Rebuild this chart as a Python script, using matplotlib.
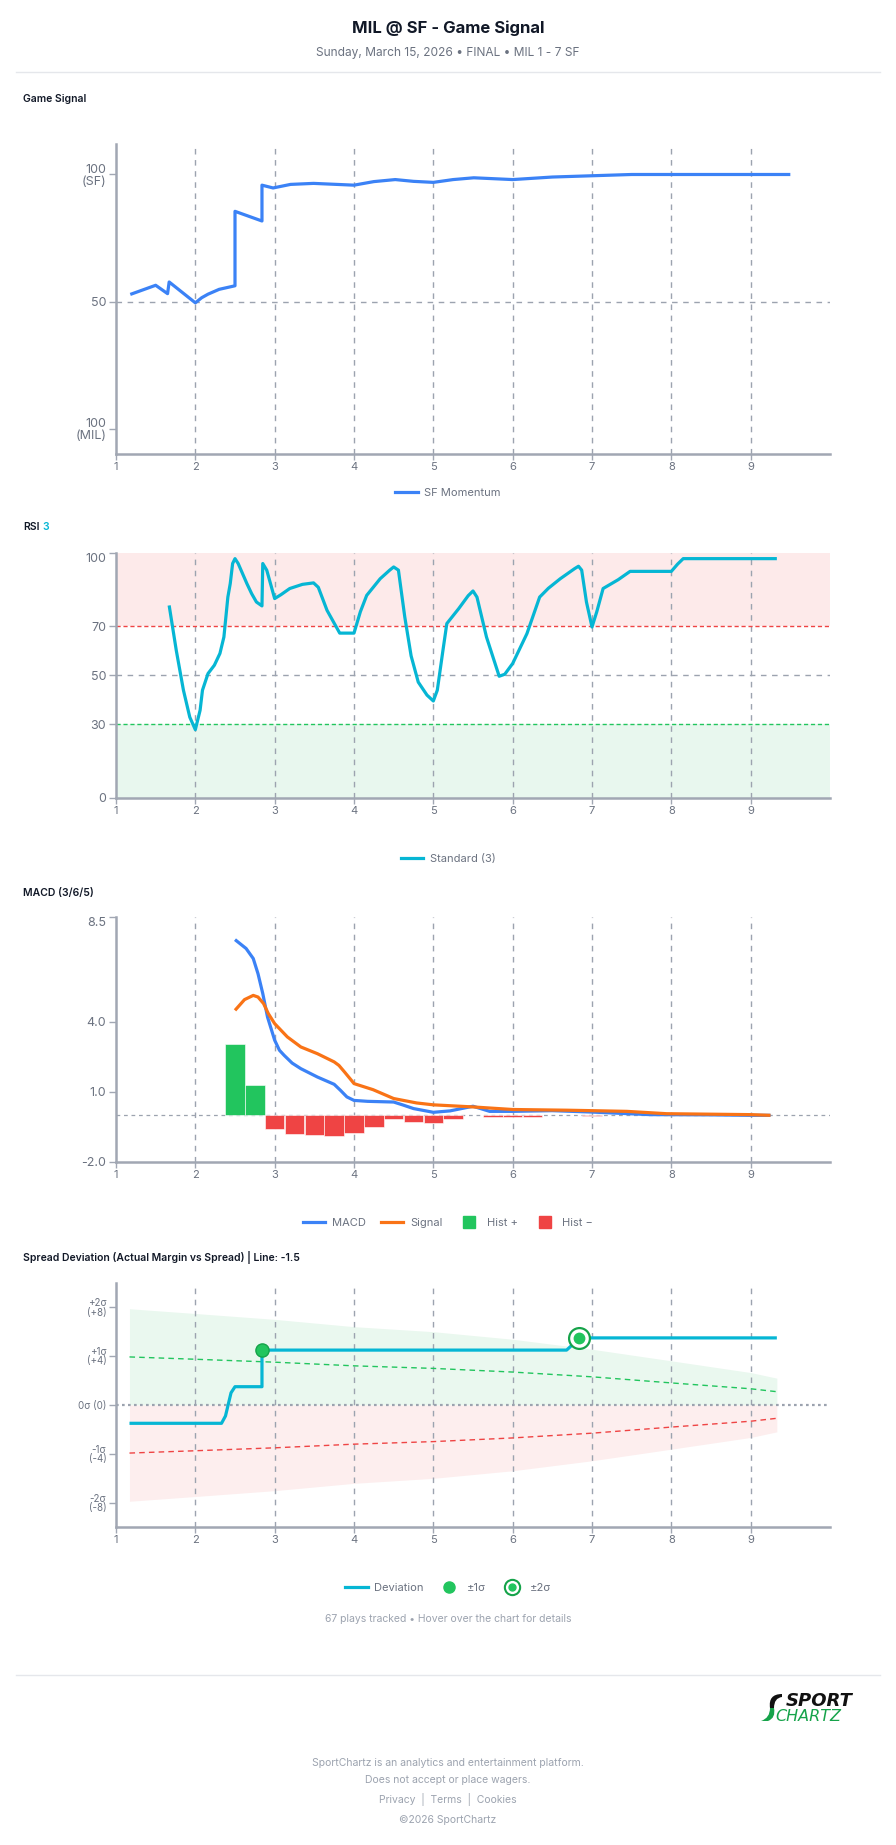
import numpy as np
import matplotlib
matplotlib.use("Agg")
import matplotlib.pyplot as plt
from matplotlib.lines import Line2D
from matplotlib.path import Path
from matplotlib.patches import PathPatch

plt.rcParams['font.family'] = ['Inter', 'DejaVu Sans']

# ---------------- data ----------------
innings = [1, 2, 3, 4, 5, 6, 7, 8, 9]

# game signal (0 = MIL 100, 100 = SF 100)
gs_x = [1.18, 1.50, 1.65, 1.67, 2.00, 2.08, 2.16, 2.30, 2.50, 2.50, 2.84, 2.84,
        2.98, 3.20, 3.49, 4.00, 4.25, 4.52, 4.75, 5.00, 5.25, 5.51, 6.00, 6.50,
        7.00, 7.50, 8.00, 9.50]
gs_y = [52.8, 56.4, 53.1, 57.7, 49.5, 51.5, 52.9, 54.8, 56.2, 85.5, 81.7, 95.8,
        94.7, 96.1, 96.5, 95.8, 97.2, 98.0, 97.3, 96.9, 98.0, 98.7, 98.0, 99.0,
        99.5, 100, 100, 100]
gs_ticks = [0, 50, 100]
gs_ticklabels = ["100\n(MIL)", "50", "100\n(SF)"]

# RSI (3)
rsi_x = [1.67, 1.76, 1.85, 1.93, 2.00, 2.06, 2.09, 2.16, 2.24, 2.31, 2.36, 2.41,
         2.44, 2.47, 2.50, 2.54, 2.65, 2.71, 2.77, 2.84, 2.85, 2.90, 3.00, 3.08,
         3.19, 3.35, 3.49, 3.55, 3.66, 3.82, 4.00, 4.08, 4.16, 4.33, 4.45, 4.50,
         4.56, 4.64, 4.72, 4.81, 4.92, 5.00, 5.05, 5.12, 5.17, 5.32, 5.44, 5.50,
         5.55, 5.67, 5.83, 5.90, 6.00, 6.18, 6.34, 6.45, 6.60, 6.78, 6.83, 6.87,
         6.93, 7.00, 7.06, 7.14, 7.33, 7.48, 8.00, 8.08, 8.15, 9.33]
rsi_y = [78.6, 60.2, 44.0, 33.0, 27.9, 35.8, 44.0, 50.8, 54.2, 59.0, 65.7, 82.0,
         87.5, 95.7, 97.7, 95.7, 87.5, 83.4, 80.0, 78.4, 95.7, 93.0, 81.4, 83.0,
         85.5, 87.2, 87.8, 86.0, 76.6, 67.3, 67.3, 76.0, 82.7, 89.5, 93.0, 94.3,
         93.0, 73.9, 58.0, 47.3, 42.0, 39.6, 44.0, 60.0, 71.2, 77.3, 82.6, 84.5,
         82.0, 65.7, 49.7, 50.5, 54.9, 67.1, 82.0, 85.6, 89.5, 93.6, 94.6, 93.0,
         80.0, 69.8, 76.0, 85.5, 89.1, 92.5, 92.5, 95.5, 97.7, 97.7]
rsi_ticks = [0, 30, 50, 70, 100]

# MACD (3/6/5)
macd_x = [2.50, 2.64, 2.73, 2.79, 2.85, 2.91, 3.00, 3.06, 3.12, 3.22, 3.33, 3.54,
          3.75, 3.83, 3.91, 4.00, 4.17, 4.50, 4.62, 4.75, 5.00, 5.21, 5.50, 5.71,
          6.00, 6.50, 7.00, 7.73, 8.50, 9.00, 9.25]
macd_y = [7.53, 7.15, 6.72, 6.07, 5.22, 4.21, 3.22, 2.79, 2.57, 2.24, 2.00, 1.64,
          1.33, 1.07, 0.79, 0.64, 0.60, 0.57, 0.44, 0.29, 0.13, 0.19, 0.39, 0.17,
          0.17, 0.20, 0.14, 0.03, 0.02, 0.0, 0.0]
sig_x = [2.50, 2.62, 2.73, 2.79, 2.86, 2.92, 3.00, 3.16, 3.33, 3.54, 3.75, 3.81,
         3.88, 3.96, 4.00, 4.24, 4.50, 4.79, 5.00, 5.50, 6.00, 6.68, 7.00, 7.44,
         7.94, 9.00, 9.25]
sig_y = [4.50, 4.96, 5.14, 5.07, 4.79, 4.36, 3.93, 3.36, 2.93, 2.64, 2.29, 2.14,
         1.86, 1.53, 1.36, 1.10, 0.72, 0.53, 0.45, 0.36, 0.25, 0.22, 0.20, 0.17,
         0.07, 0.03, 0.0]
hist_x = [2.5, 2.75, 3.0, 3.25, 3.5, 3.75, 4.0, 4.25, 4.5, 4.75, 5.0, 5.25,
          5.75, 6.0, 6.25, 7.0]
hist_y = [3.04, 1.29, -0.57, -0.81, -0.83, -0.87, -0.74, -0.51, -0.14, -0.27,
          -0.32, -0.14, -0.09, -0.09, -0.05, -0.03]
macd_ticks = [-2.0, 1.0, 4.0, 8.5]

# spread deviation (points, line -1.5)
band_x = [1.17, 2.0, 3.0, 4.0, 5.0, 6.0, 7.0, 8.0, 9.0, 9.33]
band_2s = [7.89, 7.50, 7.02, 6.42, 6.01, 5.39, 4.57, 3.62, 2.66, 2.20]
band_1s = [3.94, 3.75, 3.51, 3.21, 3.00, 2.70, 2.31, 1.81, 1.33, 1.09]
dev_x = [1.17, 2.33, 2.38, 2.45, 2.50, 2.84, 2.84, 6.68, 6.73, 6.84, 9.33]
dev_y = [-1.5, -1.5, -0.9, 1.0, 1.5, 1.5, 4.5, 4.5, 4.8, 5.5, 5.5]
sig1_x, sig1_y = [2.84], [4.5]
sig2_x, sig2_y = [6.84], [5.5]
dev_ticks = [-8, -4, 0, 4, 8]
dev_ticklabels = ["-2σ\n(-8)", "-1σ\n(-4)", "0σ (0)", "+1σ\n(+4)", "+2σ\n(+8)"]

# ---------------- style ----------------
BLUE = '#3b82f6'
CYAN = '#06b6d4'
ORANGE = '#f97316'
GREEN = '#22c55e'
DKGREEN = '#16a34a'
RED = '#ef4444'
GRID = '#9ca3af'
AXIS = '#a1a7b3'
TICK = '#6b7280'
DARK = '#111827'

W, H = 896, 1845
fig = plt.figure(figsize=(W / 100, H / 100), dpi=100)


def px_axes(left, top, right, bottom):
    return fig.add_axes([left / W, 1 - bottom / H, (right - left) / W, (bottom - top) / H])


def fy(y):
    return 1 - y / H


def base_axes(ax, ylim):
    ax.set_xlim(1, 10)
    ax.set_ylim(*ylim)
    for s in ['top', 'right']:
        ax.spines[s].set_visible(False)
    for s in ['left', 'bottom']:
        ax.spines[s].set_color(AXIS)
        ax.spines[s].set_linewidth(1.8)
    ax.set_xticks(innings)
    ax.tick_params(axis='x', colors=AXIS, labelcolor=TICK, labelsize=8, length=4, width=1, pad=2)
    ax.tick_params(axis='y', colors=AXIS, labelcolor=TICK, labelsize=9, length=5, width=1, pad=2)
    for xv in innings[1:]:
        ax.axvline(xv, color=GRID, lw=1, ls=(0, (4, 4)), zorder=1)


def section_title(y, text, extra=None):
    t = fig.text(23 / W, fy(y), text, fontsize=7.5, fontweight='semibold', color=DARK, va='center')
    if extra is not None:
        fig.canvas.draw()
        bb = t.get_window_extent()
        fig.text((bb.x1 + 3) / W, fy(y), extra, fontsize=7.5, fontweight='semibold',
                 color=CYAN, va='center')


def legend(handles, labels, y, ncol, colsp=2.0):
    fig.legend(handles, labels, loc='center', bbox_to_anchor=(448 / W, fy(y)), ncol=ncol,
               frameon=False, fontsize=8, labelcolor=TICK, handlelength=2.0,
               columnspacing=colsp, handletextpad=0.6)


def smooth_line(ax, x, y, **kw):
    ax.plot(x, y, solid_joinstyle='round', solid_capstyle='butt', **kw)


# ---------------- header ----------------
fig.text(448 / W, fy(28), "MIL @ SF - Game Signal", ha='center', va='center',
         fontsize=12, fontweight='bold', color=DARK)
fig.text(448 / W, fy(53), "Sunday, March 15, 2026 • FINAL • MIL 1 - 7 SF", ha='center',
         va='center', fontsize=8.6, color=TICK)
fig.add_artist(Line2D([16 / W, 880 / W], [fy(72), fy(72)], color='#e5e7eb', lw=1))

# ---------------- panel 1: game signal ----------------
section_title(99, "Game Signal")
ax1 = px_axes(116, 144, 830, 454)
base_axes(ax1, (-10, 112))
ax1.set_yticks(gs_ticks)
ax1.set_yticklabels(gs_ticklabels, linespacing=0.95)
ax1.axhline(50, color=GRID, lw=1, ls=(0, (4, 4)), zorder=1)
smooth_line(ax1, gs_x, gs_y, color=BLUE, lw=2.3, zorder=3)
legend([Line2D([], [], color=BLUE, lw=2.3)], ["SF Momentum"], 493, 1)

# ---------------- panel 2: RSI ----------------
section_title(527, "RSI", extra="3")
ax2 = px_axes(116, 553, 830, 798)
base_axes(ax2, (0, 100))
ax2.axhspan(70, 100, color='#fdeaea', zorder=0, lw=0)
ax2.axhspan(0, 30, color='#e8f7ee', zorder=0, lw=0)
ax2.axhline(70, color=RED, lw=1, ls=(0, (3, 2)), zorder=2)
ax2.axhline(30, color=GREEN, lw=1, ls=(0, (3, 2)), zorder=2)
ax2.axhline(50, color=GRID, lw=1, ls=(0, (4, 4)), zorder=1)
ax2.set_yticks(rsi_ticks)
ax2.set_yticklabels([str(v) for v in rsi_ticks])
ax2.get_yticklabels()[-1].set_va('top')
smooth_line(ax2, rsi_x, rsi_y, color=CYAN, lw=2.3, zorder=3)
legend([Line2D([], [], color=CYAN, lw=2.3)], ["Standard (3)"], 859, 1)

# ---------------- panel 3: MACD ----------------
section_title(893, "MACD (3/6/5)")
ax3 = px_axes(116, 917, 830, 1162)
base_axes(ax3, (-2.0, 8.5))
ax3.axhline(0, color=GRID, lw=0.9, ls=(0, (3, 3)), zorder=1)
hist_colors = [GREEN if v >= 0 else RED for v in hist_y]
ax3.bar(hist_x, hist_y, width=0.245, color=hist_colors, edgecolor='white', linewidth=0.4, zorder=2)
smooth_line(ax3, macd_x, macd_y, color=BLUE, lw=2.3, zorder=3)
smooth_line(ax3, sig_x, sig_y, color=ORANGE, lw=2.3, zorder=4)
ax3.set_yticks(macd_ticks)
ax3.set_yticklabels([f"{v:.1f}" for v in macd_ticks])
ax3.get_yticklabels()[-1].set_va('top')
legend([Line2D([], [], color=BLUE, lw=2.3), Line2D([], [], color=ORANGE, lw=2.3),
        Line2D([], [], color=GREEN, marker='s', ms=8, lw=0),
        Line2D([], [], color=RED, marker='s', ms=8, lw=0)],
       ["MACD", "Signal", "Hist +", "Hist −"], 1223, 4, colsp=1.4)

# ---------------- panel 4: spread deviation ----------------
section_title(1257, "Spread Deviation (Actual Margin vs Spread) | Line: -1.5")
ax4 = px_axes(116, 1283, 830, 1527)
base_axes(ax4, (-10, 10))
bx = np.array(band_x)
b2 = np.array(band_2s)
b1 = np.array(band_1s)
ax4.fill_between(bx, 0, b2, color='#eaf8ef', lw=0, zorder=0)
ax4.fill_between(bx, -b2, 0, color='#fdeeee', lw=0, zorder=0)
ax4.plot(bx, b1, color=GREEN, lw=1, ls=(0, (4, 3)), zorder=2)
ax4.plot(bx, -b1, color=RED, lw=1, ls=(0, (4, 3)), zorder=2)
ax4.axhline(0, color=GRID, lw=1.6, ls=(0, (1.2, 1.5)), zorder=2)
smooth_line(ax4, dev_x, dev_y, color=CYAN, lw=2.3, zorder=3)
ax4.plot(sig1_x, sig1_y, marker='o', ms=9.5, mfc=GREEN, mec=DKGREEN, mew=1, lw=0, zorder=5)
ax4.plot(sig2_x, sig2_y, marker='o', ms=15, mfc='white', mec=DKGREEN, mew=1.6, lw=0, zorder=5)
ax4.plot(sig2_x, sig2_y, marker='o', ms=7.5, mfc=GREEN, mec=GREEN, lw=0, zorder=6)
ax4.set_yticks(dev_ticks)
ax4.set_yticklabels(dev_ticklabels, fontsize=7, linespacing=0.9)
legend([Line2D([], [], color=CYAN, lw=2.3),
        Line2D([], [], marker='o', ms=8, mfc=GREEN, mec=GREEN, lw=0),
        (Line2D([], [], marker='o', ms=11, mfc='white', mec=DKGREEN, mew=1.5, lw=0),
         Line2D([], [], marker='o', ms=5, mfc=GREEN, mec=GREEN, lw=0))],
       ["Deviation", "±1σ", "±2σ"], 1588, 3, colsp=1.3)

fig.text(448 / W, fy(1619), "67 plays tracked • Hover over the chart for details",
         ha='center', va='center', fontsize=7.5, color='#9ca3af')

# ---------------- footer ----------------
fig.add_artist(Line2D([16 / W, 880 / W], [fy(1675), fy(1675)], color='#e5e7eb', lw=1))

# logo swoosh + wordmark
swoosh_top = Path([(782 / W, fy(1694)), (768 / W, fy(1694)), (770 / W, fy(1708)),
                   (774 / W, fy(1708)), (774 / W, fy(1698)), (782 / W, fy(1697)),
                   (782 / W, fy(1694))],
                  [Path.MOVETO, Path.CURVE3, Path.CURVE3, Path.LINETO, Path.CURVE3,
                   Path.CURVE3, Path.CLOSEPOLY])
swoosh_bot = Path([(770 / W, fy(1708)), (770 / W, fy(1718)), (761 / W, fy(1721)),
                   (768 / W, fy(1721)), (776 / W, fy(1718)), (774 / W, fy(1708)),
                   (770 / W, fy(1708))],
                  [Path.MOVETO, Path.CURVE3, Path.CURVE3, Path.LINETO, Path.CURVE3,
                   Path.CURVE3, Path.CLOSEPOLY])
fig.add_artist(PathPatch(swoosh_top, transform=fig.transFigure, color='#111111', lw=0))
fig.add_artist(PathPatch(swoosh_bot, transform=fig.transFigure, color=DKGREEN, lw=0))
fig.text(786 / W, fy(1701), "SPORT", fontsize=13, fontweight='heavy', style='oblique',
         family=['DejaVu Sans'], color='#111111', va='center', ha='left')
fig.text(775 / W, fy(1716.5), "CHARTZ", fontsize=11.5, style='oblique',
         family=['DejaVu Sans'], color=DKGREEN, va='center', ha='left')

foot_c = '#9ca3af'
fig.text(448 / W, fy(1763), "SportChartz is an analytics and entertainment platform.",
         ha='center', va='center', fontsize=7.5, color=foot_c)
fig.text(448 / W, fy(1780), "Does not accept or place wagers.",
         ha='center', va='center', fontsize=7.5, color=foot_c)
fig.text(448 / W, fy(1799), "Privacy  |  Terms  |  Cookies",
         ha='center', va='center', fontsize=7.5, color=foot_c)
fig.text(448 / W, fy(1820), "©2026 SportChartz",
         ha='center', va='center', fontsize=7.5, color=foot_c)

fig.savefig("out.png", dpi=100, facecolor='white')
